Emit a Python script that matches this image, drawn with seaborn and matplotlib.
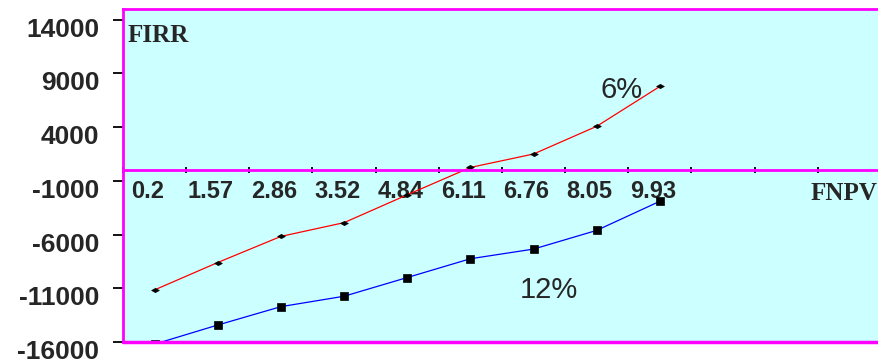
import numpy as np
import pandas as pd
import matplotlib
matplotlib.use('Agg')
import matplotlib.pyplot as plt
import matplotlib.transforms as mtransforms
from matplotlib.ticker import FixedLocator
import seaborn as sns

# --- data ---
FNPV_LABELS = ['0.2', '1.57', '2.86', '3.52', '4.84', '6.11', '6.76', '8.05', '9.93']
FIRR_6 = [-11150, -8600, -6170, -4890, -2300, 250, 1500, 4080, 7790]
FIRR_12 = [-16200, -14420, -12710, -11740, -10000, -8250, -7350, -5610, -2900]
SERIES = ['6%', '12%']
Y_TICKS = [-16000, -11000, -6000, -1000, 4000, 9000, 14000]
Y_MIN, Y_MAX = -16000, 15000
N_SLOTS = 12   # category slots on the x axis (only 9 filled)

MAGENTA = '#FF00FF'
BG = '#CCFFFF'

df = pd.DataFrame({
    'FNPV': FNPV_LABELS * 2,
    'FIRR': FIRR_6 + FIRR_12,
    'rate': [SERIES[0]] * len(FIRR_6) + [SERIES[1]] * len(FIRR_12),
})

sns.set_style('white')
plt.rcParams['font.family'] = ['Liberation Sans', 'DejaVu Sans']

fig = plt.figure(figsize=(8.79, 3.64), dpi=100)
ax = fig.add_axes([123 / 879, 22 / 364, (879 - 123) / 879, 333 / 364])
ax.set_facecolor(BG)

# flat diamond marker like the original
diamond = [(-1, 0), (0, 0.55), (1, 0), (0, -0.55), (-1, 0)]

sns.lineplot(
    data=df, x='FNPV', y='FIRR', hue='rate', style='rate',
    hue_order=SERIES, style_order=SERIES,
    palette={'6%': '#FF0000', '12%': '#0000FF'},
    markers={'6%': diamond, '12%': 's'}, dashes=False,
    linewidth=0.9, markersize=5.5,
    markerfacecolor='black', markeredgecolor='black', markeredgewidth=0.5,
    legend=False, ax=ax,
)

ax.set_ylim(Y_MIN, Y_MAX)
ax.set_xlim(-0.5, N_SLOTS - 0.53)
ax.set_xlabel('')
ax.set_ylabel('')

# --- spines ---
for s in ['left', 'top']:
    ax.spines[s].set_color(MAGENTA)
    ax.spines[s].set_linewidth(2)
ax.spines['right'].set_visible(False)
ax.spines['bottom'].set_position(('data', 0))
ax.spines['bottom'].set_color(MAGENTA)
ax.spines['bottom'].set_linewidth(2)
ax.axhline(Y_MIN, color=MAGENTA, linewidth=2.5, clip_on=False, zorder=3)

# --- y axis ---
ax.set_yticks(Y_TICKS)
ax.set_yticklabels([str(v) for v in Y_TICKS])
ax.tick_params(axis='y', direction='out', length=7, width=1.3, color='black',
               pad=10, labelsize=19, left=True)

# --- x axis ---
ax.set_xticks(range(len(FNPV_LABELS)))
ax.set_xticklabels(FNPV_LABELS)
ax.xaxis.set_minor_locator(FixedLocator(np.arange(N_SLOTS + 1) - 0.5))
ax.tick_params(axis='x', which='major', length=0, pad=7, labelsize=17, bottom=True)
ax.tick_params(axis='x', which='minor', direction='inout', length=5, width=1.3,
               color='black', bottom=True)

# label offsets (Excel style)
y_off = mtransforms.ScaledTranslation(0, -0.075, fig.dpi_scale_trans)
x_off = mtransforms.ScaledTranslation(-0.07, 0, fig.dpi_scale_trans)
for t in ax.yaxis.get_major_ticks():
    t.label1.set_fontweight('bold')
    t.label1.set_transform(t.label1.get_transform() + y_off)
for t in ax.xaxis.get_major_ticks():
    t.label1.set_fontweight('bold')
    t.label1.set_transform(t.label1.get_transform() + x_off)

# --- titles / annotations ---
serif = ['Liberation Serif', 'DejaVu Serif']
ax.text(0.0066, 0.901, 'FIRR', transform=ax.transAxes, family=serif,
        weight='bold', size=18, ha='left', va='baseline')
ax.text(0.909, 0.426, 'FNPV', transform=ax.transAxes, family=serif,
        weight='bold', size=18, ha='left', va='baseline')
ax.text(7.39, 6714, '6%', ha='center', va='baseline', size=21)
ax.text(6.24, -11936, '12%', ha='center', va='baseline', size=21)

fig.savefig('out.png', dpi=100)
